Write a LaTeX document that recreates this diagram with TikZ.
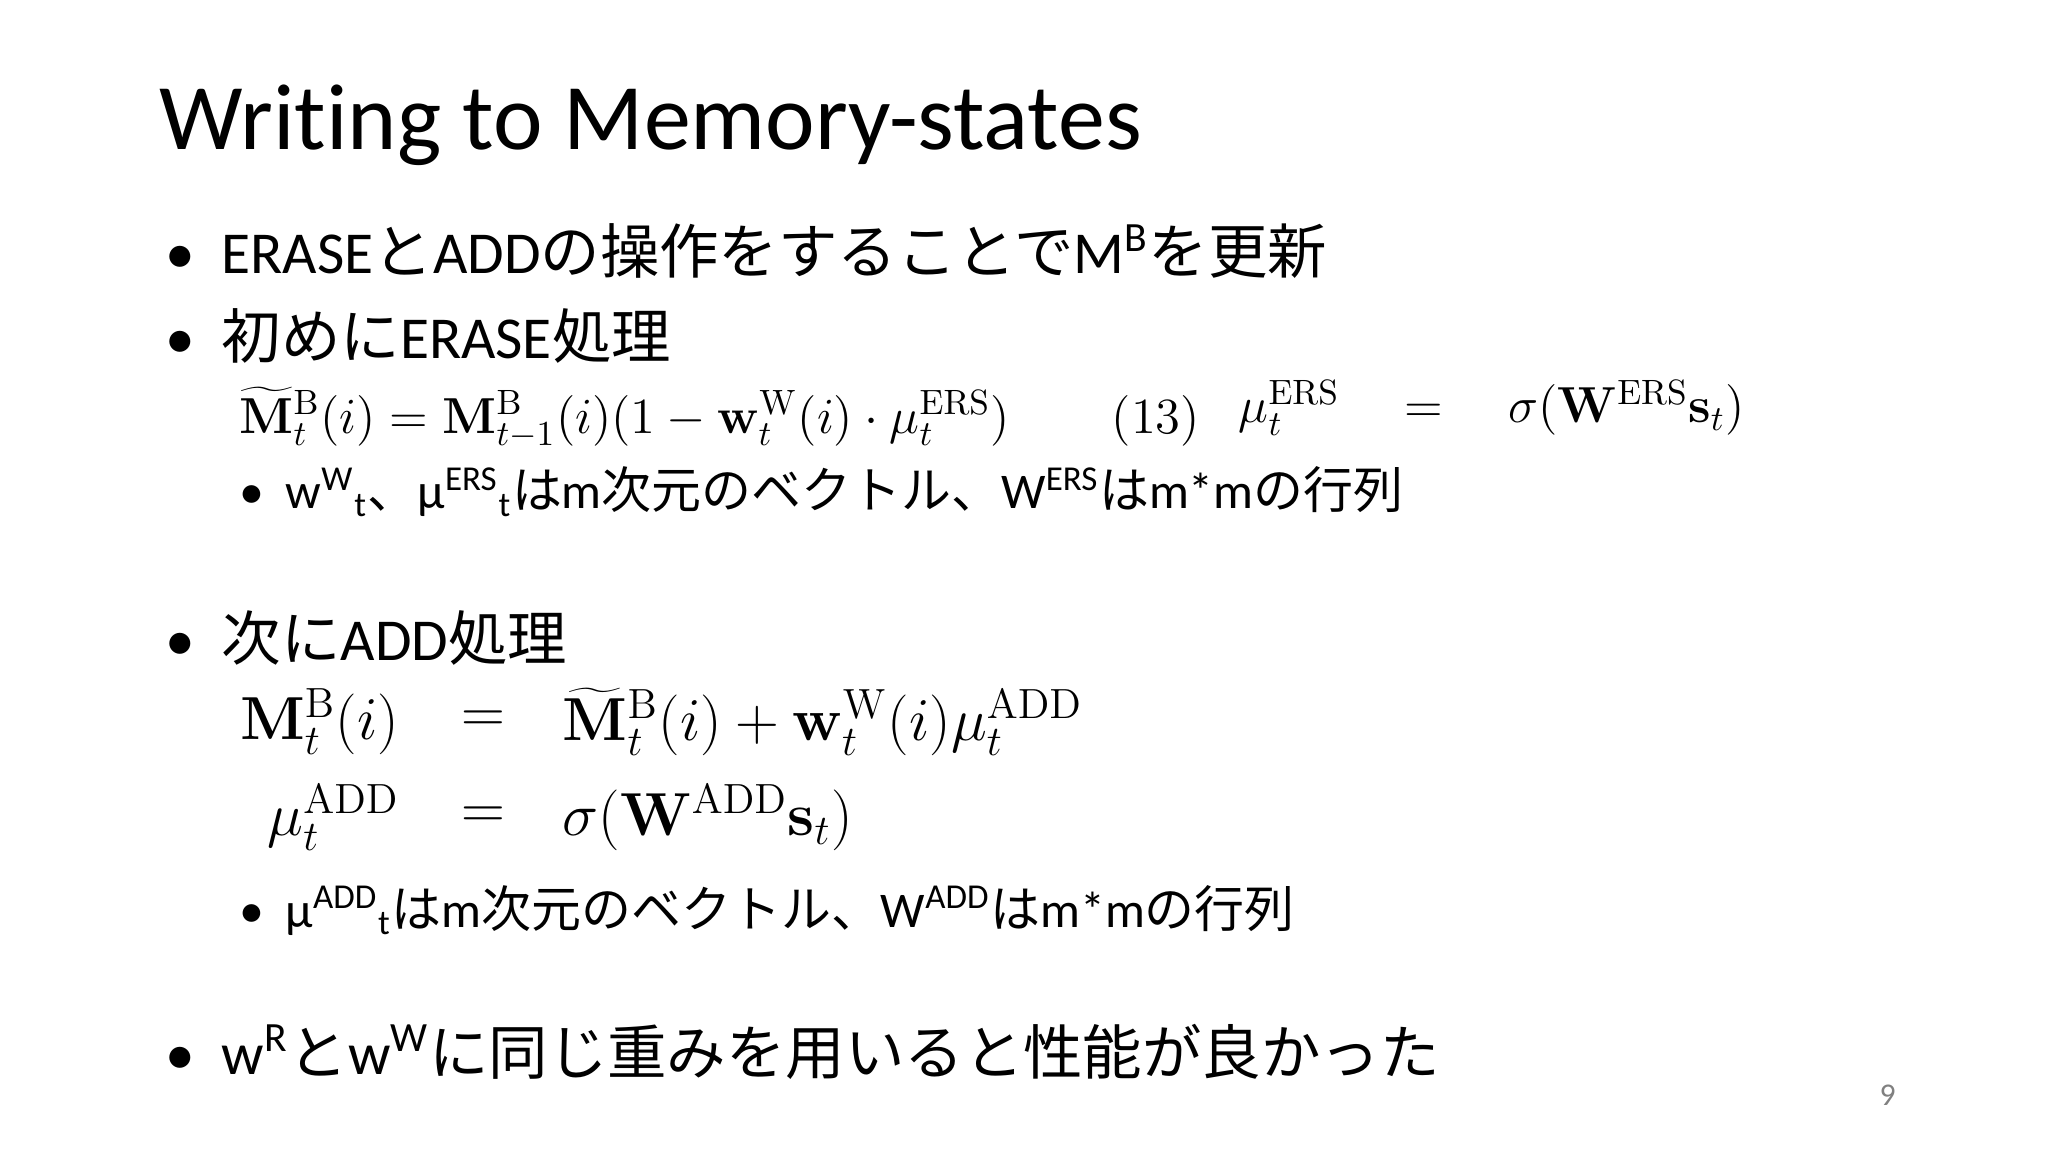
\documentclass[tikz,border=0pt]{standalone}
\usepackage[no-math]{fontspec}
\setmainfont[Ligatures=NoCommon]{Carlito}
\newfontfamily\jp{Noto Sans CJK JP}
\newcommand{\J}[1]{{\jp #1}}
\newcommand{\bigbul}{\makebox[0.61cm][l]{\hspace{0.05cm}•}}
\newcommand{\smbul}{\makebox[0.49cm][l]{\hspace{0.03cm}•}}
\begin{document}
\begin{tikzpicture}[x=0.01cm,y=-0.01cm,
  txt/.style={anchor=base west,inner sep=0pt},
  big/.style={txt,font=\fontsize{16.9}{20}\selectfont},
  small/.style={txt,font=\fontsize{14.2}{18}\selectfont},
  eqa/.style={inner sep=0pt,font=\fontsize{14.5}{17}\selectfont},
  eqb/.style={inner sep=0pt,font=\fontsize{18}{22}\selectfont}]
\useasboundingbox (0,0) rectangle (2048,1152);
\fill[white] (0,0) rectangle (2048,1152);
\node[txt,font=\fontsize{26.7}{32}\selectfont] (title) at (159,150) {Writing to Memory-states};
\node[big] (b1) at (160,274) {\bigbul ERASE\J{と}ADD\J{の操作をすることで}M\textsuperscript{B}\J{を更新}};
\node[big] (b2) at (160,359) {\bigbul\J{初めに}ERASE\J{処理}};
\node[eqa,anchor=west] (e13) at (239,418) {$\widetilde{\mathbf{M}}^{\mathrm{B}}_t(i)=\mathbf{M}^{\mathrm{B}}_{t-1}(i)(1-\mathbf{w}^{\mathrm{W}}_t(i)\cdot\mu^{\mathrm{ERS}}_t)\qquad(13)$};
\node[eqa,anchor=west] (mu1) at (1238,408) {$\mu^{\mathrm{ERS}}_t\quad=\quad\sigma(\mathbf{W}^{\mathrm{ERS}}\mathbf{s}_t)$};
\node[small] (s1) at (236,509) {\smbul w\textsuperscript{W}\textsubscript{t}\J{、}μ\textsuperscript{ERS}\textsubscript{t}\J{は}m\J{次元のベクトル、}W\textsuperscript{ERS}\J{は}m*m\J{の行列}};
\node[big] (b3) at (160,660) {\bigbul\J{次に}ADD\J{処理}};
\node[eqb,anchor=east] (l1) at (400,722) {$\mathbf{M}^{\mathrm{B}}_t(i)$};
\node[eqb] (q1) at (483,722) {$=$};
\node[eqb,anchor=west] (r1) at (562,722) {$\widetilde{\mathbf{M}}^{\mathrm{B}}_t(i)+\mathbf{w}^{\mathrm{W}}_t(i)\mu^{\mathrm{ADD}}_t$};
\node[eqb,anchor=east] (l2) at (400,818) {$\mu^{\mathrm{ADD}}_t$};
\node[eqb] (q2) at (483,818) {$=$};
\node[eqb,anchor=west] (r2) at (562,818) {$\sigma(\mathbf{W}^{\mathrm{ADD}}\mathbf{s}_t)$};
\node[small] (s2) at (236,927) {\smbul μ\textsuperscript{ADD}\textsubscript{t}\J{は}m\J{次元のベクトル、}W\textsuperscript{ADD}\J{は}m*m\J{の行列}};
\node[big] (b4) at (160,1074) {\bigbul w\textsuperscript{R}\J{と}w\textsuperscript{W}\J{に同じ重みを用いると性能が良かった}};
\node[txt,font=\fontsize{9}{11}\selectfont,text=gray] (pg) at (1879,1105) {9};
\end{tikzpicture}
\end{document}
